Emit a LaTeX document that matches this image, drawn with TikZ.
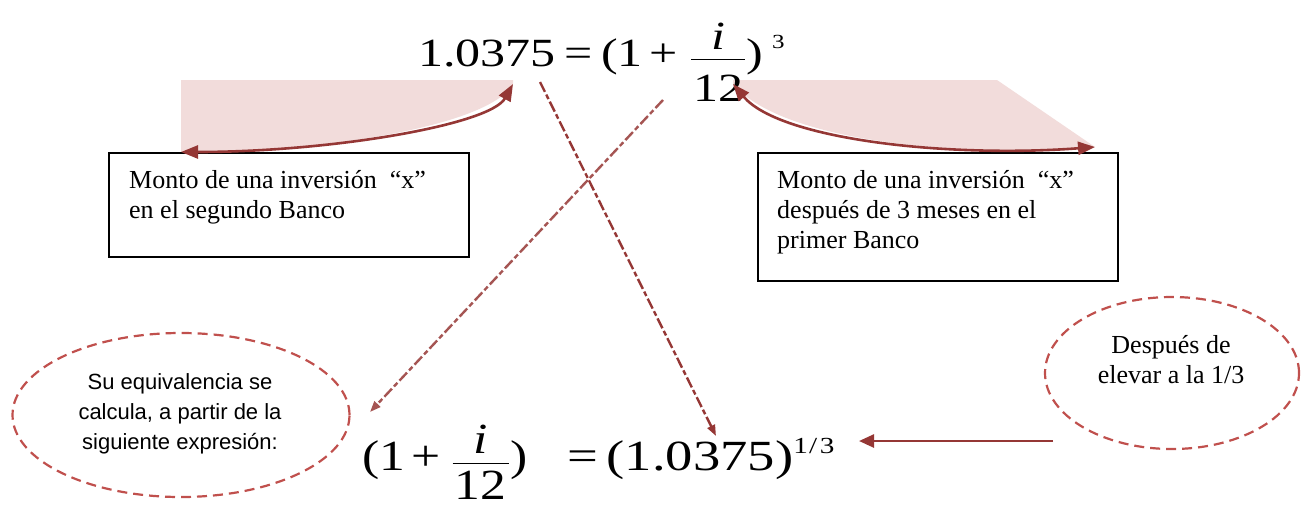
\documentclass[tikz,border=0pt]{standalone}
\usepackage{fontspec}
\usepackage{amsmath}
\usepackage{graphicx}
\setmainfont{Liberation Serif}
\newfontfamily\arialf{Liberation Sans}
\usetikzlibrary{arrows.meta,shapes.geometric}
\definecolor{dred}{HTML}{953735}
\definecolor{mred}{HTML}{C0504D}
\definecolor{pinkfill}{HTML}{F2DCDB}
\begin{document}
\begin{tikzpicture}[x=1pt,y=-1pt,
  boxst/.style={draw=black,line width=1.6pt,anchor=north west,inner sep=0pt},
  boxtext/.style={font=\fontsize{26}{30}\selectfont,align=left,inner sep=0pt,anchor=base west},
  ellst/.style={ellipse,draw=mred,line width=2.2pt,dash pattern=on 10pt off 6pt,inner sep=0pt},
  elltext/.style={align=center,inner sep=0pt},
  curvest/.style={draw=dred,line width=2.6pt,{Triangle[length=17pt,width=13pt]}-{Triangle[length=17pt,width=13pt]}},
  dashline/.style={draw=dred,line width=2.4pt,dash pattern=on 11pt off 3pt on 5pt off 3pt,-{Triangle[length=11pt,width=8pt]}},
  eqn/.style={inner sep=0pt,anchor=base west}
]
\useasboundingbox (0,0) rectangle (1308,507);
% pink shaded regions
\fill[pinkfill] (181,80) -- (513,80) -- (513,84) .. controls (490,125) and (330,152) .. (181,152) -- cycle;
\fill[pinkfill] (733,80) -- (997,80) -- (1095,147) .. controls (950,158) and (780,140) .. (733,84) -- cycle;
% top equation
\node[eqn] (eqT) at (418,66) {\fontsize{40}{48}\selectfont\scalebox{1.25}[1]{$\text{1.0375}\mathrel{\text{=}}\text{(1}\mathbin{\text{+}}\hspace{4pt}\dfrac{\textit{i}}{\rule{0pt}{38pt}\makebox[43pt]{12}}\text{)}\hspace{7pt}\raisebox{18pt}{\fontsize{20}{20}\selectfont 3}$}};
% bottom equation
\node[eqn] (eqBL) at (362,470) {\fontsize{43}{50}\selectfont\scalebox{1.2}[1]{$\text{(1}\mathbin{\text{+}}\hspace{3pt}\dfrac{\textit{i}}{\rule{0pt}{32pt}\makebox[47pt]{12}}\text{)}$}};
\node[eqn] (eqBR) at (567,470) {\fontsize{43}{50}\selectfont\scalebox{1.27}[1]{$\text{=}\;\text{(1.0375)}\raisebox{17pt}{\fontsize{23}{23}\selectfont 1\kern1pt/\kern2pt3}$}};
% boxes
\node[boxst,minimum width=360,minimum height=104] (boxL) at (108,152) {};
\node[boxtext] (txtL) at (129,218) {Monto de una inversión\ \ “x”\\en el segundo Banco};
\node[boxst,minimum width=360,minimum height=128] (boxR) at (757,152) {};
\node[boxtext] (txtR) at (777,248) {Monto de una inversión\ \ “x”\\después de 3 meses en el\\primer Banco};
% ellipses
\node[ellst,minimum width=337,minimum height=164] (ellL) at (181,415) {};
\node[elltext,font=\arialf\fontsize{22}{30}\selectfont] (ellLt) at (180,414) {Su equivalencia se\\calcula, a partir de la\\siguiente expresión:};
\node[ellst,minimum width=254,minimum height=152] (ellR) at (1172,373) {};
\node[elltext,font=\fontsize{26}{30}\selectfont] (ellRt) at (1171,360) {Después de\\elevar a la 1/3};
% curved double arrows
\coordinate (cL1) at (513,84);
\coordinate (cL2) at (181,152);
\draw[curvest] (cL1) .. controls (490,125) and (330,152) .. (cL2);
\coordinate (cR1) at (733,84);
\coordinate (cR2) at (1095,147);
\draw[curvest] (cR1) .. controls (780,140) and (950,158) .. (cR2);
% dashed arrows
\coordinate (d1s) at (540,82);
\coordinate (d1e) at (716,436);
\draw[dashline] (d1s) -- (d1e);
\coordinate (d2s) at (663,100);
\coordinate (d2e) at (370,412);
\draw[dashline,draw=dred!85] (d2s) -- (d2e);
% solid arrow
\coordinate (aS) at (1053,441);
\coordinate (aE) at (859,441);
\draw[draw=dred,line width=2.6pt,-{Triangle[length=15pt,width=13pt]}] (aS) -- (aE);
\end{tikzpicture}
\end{document}
